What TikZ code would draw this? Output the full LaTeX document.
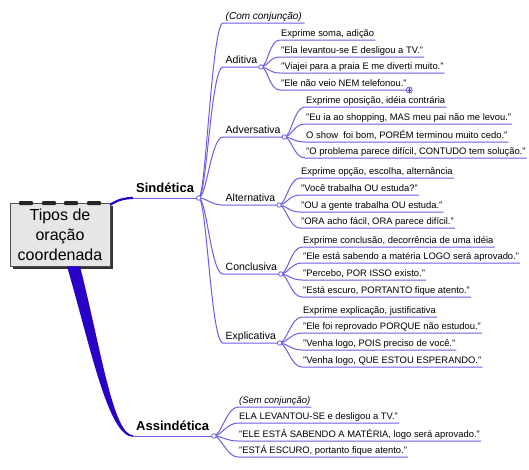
\documentclass[tikz,border=0pt]{standalone}
\usepackage{fontspec}
\setmainfont{Liberation Sans}
\usetikzlibrary{shadows}
\definecolor{mainblue}{RGB}{40,0,200}
\definecolor{linkblue}{RGB}{108,94,228}
\definecolor{boxgray}{RGB}{230,230,230}
\definecolor{boxedge}{RGB}{80,80,80}
\newcommand\lk[2]{\draw[link] (#1) .. controls +(7,0) and +(-11,0) .. (#2.south west) -- (#2.south east);}
\newcommand\sk[3]{\draw[link] (#1) .. controls +(8,0) and +(-12,0) .. (#2.south west) -- (#3);}
\begin{document}
\begin{tikzpicture}[x=1pt,y=-1pt,
 leaf/.style={anchor=south west, font=\fontsize{9.4}{11}\selectfont, inner xsep=1pt, inner ysep=1.5pt, text height=7pt, text depth=2pt},
 sub/.style={anchor=south west, font=\fontsize{10.5}{12}\selectfont, inner xsep=2.5pt, inner ysep=1.5pt, text height=8pt, text depth=2.2pt},
 topnode/.style={anchor=south west, font=\bfseries\fontsize{13}{15}\selectfont, inner xsep=3pt, inner ysep=2pt, text height=9.5pt, text depth=3pt},
 rootbox/.style={draw=boxedge, fill=boxgray, line width=0.8pt, minimum width=100pt, minimum height=63pt, align=center, inner sep=0pt, font=\fontsize{16}{20}\selectfont, drop shadow={shadow xshift=3pt, shadow yshift=-3pt, fill=black!80, opacity=1}},
 dot/.style={circle, draw=linkblue, fill=white, line width=0.8pt, inner sep=0pt, minimum size=4.5pt},
 plusdot/.style={circle, draw=linkblue, fill=linkblue!25, line width=0.8pt, inner sep=0pt, minimum size=6pt},
 link/.style={draw=linkblue, line width=1pt}
]
\useasboundingbox (0,0) rectangle (529,469);

% root
\node[rootbox] (root) at (60,234.5) {Tipos de\\oração\\coordenada};
\foreach \x in {19,42,64,87} \fill[black!85, rounded corners=1pt] (\x,201) rectangle ++(14,4);

% main branches
\node[topnode] (sind) at (133,198) {Sindética};
\node[topnode] (asind) at (133,436) {Assindética};
\coordinate (sdot) at ([xshift=1.5pt]sind.south east);
\coordinate (adot) at ([xshift=1.5pt]asind.south east);

\draw[mainblue, line width=2.2pt] ([shift={(0,2)}]root.north east) .. controls +(8,-5) and +(-8,0) .. (sind.south west);
\draw[link] (sind.south west) -- (sdot);
\fill[mainblue] ([xshift=7pt]root.south) .. controls +(23,78) and +(-25,0) .. ([yshift=-0.8pt]asind.south west)
  -- ([yshift=0.8pt]asind.south west) .. controls +(-20,0) and +(20,78) .. ([xshift=20pt]root.south) -- cycle;
\draw[link] (asind.south west) -- (adot);

% Sindética sub-branches
\node[sub, font=\itshape\fontsize{10}{12}\selectfont] (com) at (223,23) {(Com conjunção)};
\node[sub] (adi) at (223,67) {Aditiva};
\node[sub] (adv) at (223,137) {Adversativa};
\node[sub] (alt) at (223,205) {Alternativa};
\node[sub] (con) at (223,274) {Conclusiva};
\node[sub] (exp) at (223,343) {Explicativa};
\coordinate (adidot) at ([xshift=1pt]adi.south east);
\coordinate (advdot) at ([xshift=1pt]adv.south east);
\coordinate (altdot) at ([xshift=1pt]alt.south east);
\coordinate (condot) at ([xshift=1pt]con.south east);
\coordinate (expdot) at ([xshift=1pt]exp.south east);
\lk{sdot}{com}
\sk{sdot}{adi}{adidot}
\sk{sdot}{adv}{advdot}
\sk{sdot}{alt}{altdot}
\sk{sdot}{con}{condot}
\sk{sdot}{exp}{expdot}

% Aditiva
\node[leaf] (a1) at (280,40) {Exprime soma, adição};
\node[leaf] (a2) at (280,57) {"Ela levantou-se E desligou a TV."};
\node[leaf] (a3) at (280,73) {"Viajei para a praia E me diverti muito."};
\node[leaf] (a4) at (280,90) {"Ele não veio NEM telefonou."};
\foreach \n in {a1,a2,a3,a4} {\lk{adidot}{\n}}

% Adversativa
\node[leaf] (b1) at (305,107) {Exprime oposição, idéia contrária};
\node[leaf] (b2) at (305,124) {"Eu ia ao shopping, MAS meu pai não me levou."};
\node[leaf] (b3) at (305,142) {O show\ \ foi bom, PORÉM terminou muito cedo."};
\node[leaf] (b4) at (305,158) {"O problema parece difícil, CONTUDO tem solução."};
\foreach \n in {b1,b2,b3,b4} {\lk{advdot}{\n}}

% Alternativa
\node[leaf] (c1) at (300,178) {Exprime opção, escolha, alternância};
\node[leaf] (c2) at (300,195) {"Você trabalha OU estuda?"};
\node[leaf] (c3) at (300,212) {"OU a gente trabalha OU estuda."};
\node[leaf] (c4) at (300,228) {"ORA acho fácil, ORA parece difícil."};
\foreach \n in {c1,c2,c3,c4} {\lk{altdot}{\n}}

% Conclusiva
\node[leaf] (d1) at (302,247) {Exprime conclusão, decorrência de uma idéia};
\node[leaf] (d2) at (302,263) {"Ele está sabendo a matéria LOGO será aprovado."};
\node[leaf] (d3) at (302,280) {"Percebo, POR ISSO existo."};
\node[leaf] (d4) at (302,297) {"Está escuro, PORTANTO fique atento."};
\foreach \n in {d1,d2,d3,d4} {\lk{condot}{\n}}

% Explicativa
\node[leaf] (e1) at (302,317) {Exprime explicação, justificativa};
\node[leaf] (e2) at (302,333) {"Ele foi reprovado PORQUE não estudou."};
\node[leaf] (e3) at (302,350) {"Venha logo, POIS preciso de você."};
\node[leaf] (e4) at (302,367) {"Venha logo, QUE ESTOU ESPERANDO."};
\foreach \n in {e1,e2,e3,e4} {\lk{expdot}{\n}}

% Assindética
\node[leaf, font=\itshape\fontsize{9.4}{11}\selectfont] (f1) at (238,407) {(Sem conjunção)};
\node[leaf] (f2) at (238,423) {ELA LEVANTOU-SE e desligou a TV."};
\node[leaf] (f3) at (238,441) {"ELE ESTÁ SABENDO A MATÉRIA, logo será aprovado."};
\node[leaf] (f4) at (238,457) {"ESTÁ ESCURO, portanto fique atento."};
\foreach \n in {f1,f2,f3,f4} {\lk{adot}{\n}}

% dots
\foreach \d in {sdot,adot,adidot,advdot,altdot,condot,expdot} \node[dot] at (\d) {};
\node[plusdot] (pd) at ([xshift=1.5pt]a4.south east) {};
\draw[linkblue!70!black, line width=0.6pt] ([xshift=-1.8pt]pd.center) -- ([xshift=1.8pt]pd.center) ([yshift=-1.8pt]pd.center) -- ([yshift=1.8pt]pd.center);
\end{tikzpicture}
\end{document}
